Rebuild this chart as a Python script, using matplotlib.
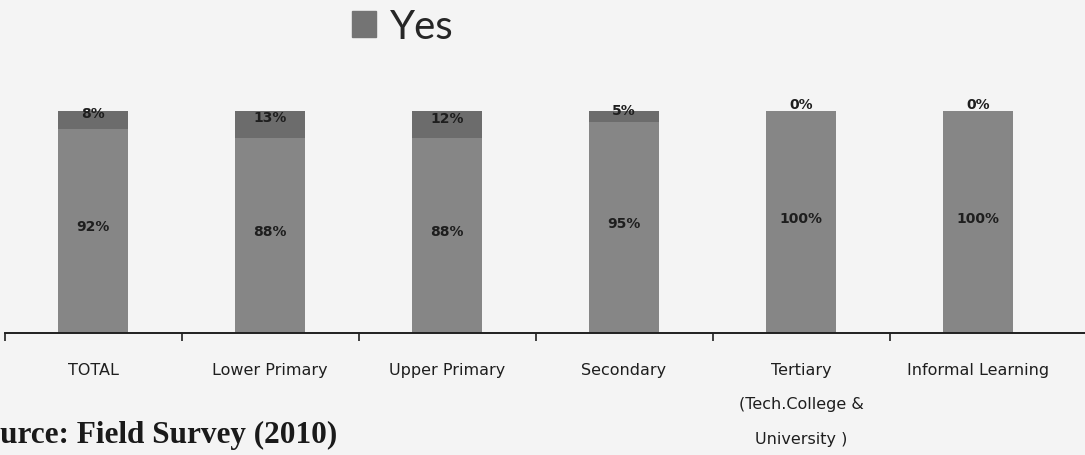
import matplotlib
matplotlib.use("Agg")
import matplotlib.pyplot as plt
from matplotlib.patches import Rectangle

categories = ["TOTAL", "Lower Primary", "Upper Primary", "Secondary",
              "Tertiary\n(Tech.College &\nUniversity )", "Informal Learning"]
yes_vals = [92, 88, 88, 95, 100, 100]
no_vals = [8, 13, 12, 5, 0, 0]
legend_label = "Yes"

W, H = 1085, 456
fig = plt.figure(figsize=(W / 100, H / 100), dpi=100, facecolor="#f4f4f4")

ax = fig.add_axes([4.5 / W, (H - 334) / H, (W - 4.5) / W, 222 / H])
ax.set_facecolor("none")
x = list(range(len(categories)))
bw = 0.395
c_low = "#868686"
c_top = "#6c6c6c"
b1 = ax.bar(x, yes_vals, width=bw, color=c_low, zorder=2)
b2 = ax.bar(x, no_vals, width=bw, bottom=yes_vals, color=c_top, zorder=2)

ax.set_xlim(-0.5, (W - 93) / 177)
ax.set_ylim(0, 100)

lab_kw = dict(ha="center", va="center", fontsize=10, fontweight="bold",
              color="#1e1e1e", family="DejaVu Sans", zorder=3)
for i in x:
    ax.text(i, yes_vals[i] / 2 + 2, f"{yes_vals[i]}%", **lab_kw)
    ax.text(i, yes_vals[i] + no_vals[i] / 2 + 3, f"{no_vals[i]}%", **lab_kw)

for s in ["top", "right", "left"]:
    ax.spines[s].set_visible(False)
ax.spines["bottom"].set_linewidth(1.4)
ax.spines["bottom"].set_color("#202020")
ax.set_yticks([])

ax.set_xticks([i - 0.5 for i in x])
ax.set_xticklabels([])
ax.tick_params(axis="x", which="major", length=6, width=1.2, color="#202020",
               direction="out")
ax.set_xticks(x, minor=True)
ax.set_xticklabels(categories, minor=True)
ax.tick_params(axis="x", which="minor", length=0, pad=21, labelsize=11.5,
               labelcolor="#1e1e1e")
for lbl in ax.get_xticklabels(minor=True):
    lbl.set_linespacing(2.6)

# legend
handle = Rectangle((0, 0), 1, 1, color="#747474")
leg = fig.legend([handle], [legend_label], loc="upper left",
                 bbox_to_anchor=(352 / W, 1 - 9 / H), frameon=False,
                 prop={"family": "Lato", "size": 29}, handlelength=0.6,
                 handleheight=0.6, handletextpad=0.35, borderpad=0,
                 borderaxespad=0)
for t in leg.get_texts():
    t.set_color("#262626")

# source line (left part cut off by the page edge, as in the scan)
src_kw = dict(family="Liberation Serif", fontweight="bold", fontsize=22.5,
              color="#1a1a1a")
fig.canvas.draw()
r = fig.canvas.get_renderer()
tmp = fig.text(0, 0, "So", **src_kw)
wso = tmp.get_window_extent(r).width
tmp.remove()
fig.text(-wso / W, (H - 443) / H, "Source: Field Survey (2010)",
         va="baseline", ha="left", **src_kw)

fig.savefig("out.png", dpi=100, facecolor=fig.get_facecolor())
